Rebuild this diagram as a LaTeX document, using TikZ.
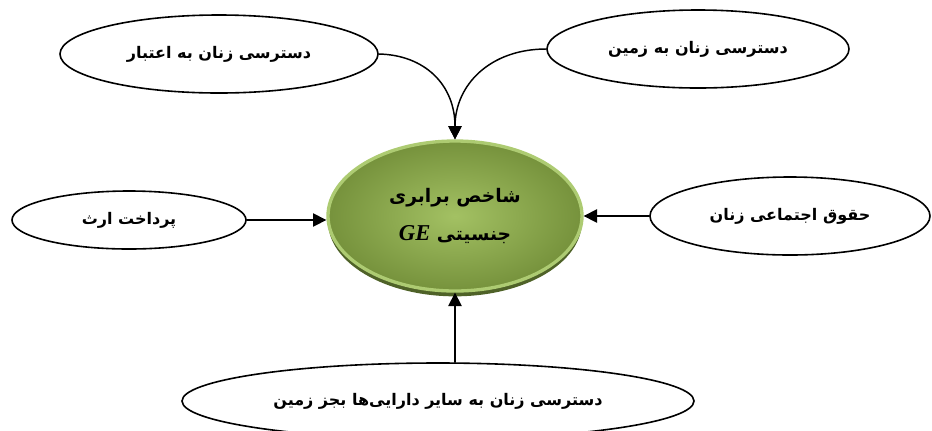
\documentclass[tikz,border=0pt]{standalone}
\usepackage{fontspec}
\newfontfamily\farsifont[Script=Arabic]{DejaVu Sans}
\newfontfamily\latinfont{Liberation Serif}
\TeXXeTstate=1
\usetikzlibrary{arrows.meta,shapes.geometric,shadows}
\definecolor{geinner}{HTML}{A3C163}
\definecolor{geouter}{HTML}{76923C}
\definecolor{gering}{HTML}{ADCB72}
\definecolor{geshadow}{HTML}{4F6228}
\begin{document}
\begin{tikzpicture}[x=0.75pt,y=-0.75pt, line join=round, line cap=round, >={Triangle[length=10pt,width=10pt]},
	factor/.style={draw, ellipse, line width=1.2pt, inner sep=0pt, font=\farsifont\bfseries\fontsize{12}{14}\selectfont},
	link/.style={->, line width=1.1pt}]
	\useasboundingbox (0,0) rectangle (932,430);
	% central index
	\node[ellipse, minimum width=190.5pt, minimum height=112.5pt, inner color=geinner, outer color=geouter, draw=gering, line width=2.5pt,
		drop shadow={shadow xshift=0pt, shadow yshift=-4pt, fill=geshadow, opacity=1},
		align=center, font=\farsifont\bfseries\fontsize{14}{28}\selectfont] (ge) at (455,216)
		{\beginR شاخص برابری\endR\\ \beginR جنسیتی {\latinfont\bfseries\itshape\fontsize{17}{28}\selectfont\beginL GE\endL}\endR};
	% factors
	\node[factor, minimum width=238.5pt, minimum height=58.5pt] (credit) at (219,54) {\beginR دسترسی زنان به اعتبار\endR};
	\node[factor, minimum width=226.5pt, minimum height=58.5pt] (land) at (698,49) {\beginR دسترسی زنان به زمین\endR};
	\node[factor, minimum width=175.5pt, minimum height=43.5pt] (inherit) at (129,220) {\beginR پرداخت ارث\endR};
	\node[factor, minimum width=210pt, minimum height=58.5pt] (social) at (790,216) {\beginR حقوق اجتماعی زنان\endR};
	\node[factor, minimum width=384pt, minimum height=57pt] (assets) at (438,401) {\beginR دسترسی زنان به سایر دارایی‌ها بجز زمین\endR};
	% arrows
	\draw[link] (credit.east) .. controls (425,55) and (455,85) .. (ge.north);
	\draw[link] (land.west) .. controls (490,49) and (455,85) .. (ge.north);
	\draw[link] (inherit.east) -- (inherit.east -| ge.west);
	\draw[link] (social.west) -- (social.west -| ge.east);
	\draw[link] (assets.north -| ge.south) -- (ge.south);
\end{tikzpicture}
\end{document}
